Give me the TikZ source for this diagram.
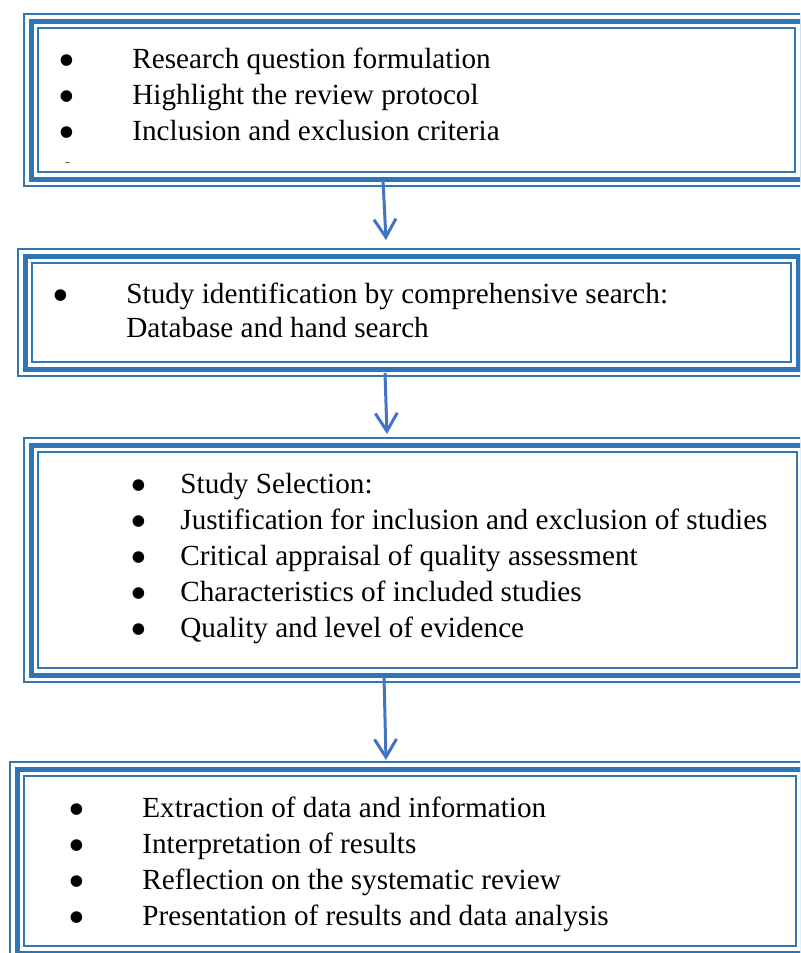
\documentclass[tikz,border=0pt]{standalone}
\usepackage{fontspec}
\setmainfont{Liberation Serif}
\newfontfamily\symfont{DejaVu Sans}
\usetikzlibrary{arrows.meta}
\usepackage{xcolor}
\definecolor{frameblue}{HTML}{2E75B6}
\definecolor{arrowblue}{HTML}{4472C4}
\newcommand{\bul}{\makebox[0pt]{\raisebox{1.6pt}{\symfont\fontsize{7.6pt}{9pt}\selectfont ●}}}

\begin{document}
\begin{tikzpicture}[x=0.5pt,y=-0.5pt]
\tikzstyle{stage} = [rectangle, draw=frameblue, line width=2.5pt, outer sep=0pt,
anchor=north west, preaction={draw=frameblue, line width=1.1pt, double=white, double distance=5.9pt}]
\tikzstyle{item} = [anchor=base west, inner sep=0pt, font=\fontsize{14.6pt}{18pt}\selectfont]
\tikzstyle{line} = [draw=arrowblue, line width=1.5pt, -{Straight Barb[length=9pt,width=11pt]}];

\useasboundingbox (0,0) rectangle (800,953);
\clip (0,0) rectangle (800,953);
\fill[white] (0,0) rectangle (800,953);

% stage 1
\node [stage, minimum width=385.5pt, minimum height=79pt] (plan) at (31,21) {};
\node [item] (plan1) at (66,68) {\bul\hspace{33pt}Research question formulation};
\node [item] (plan2) at (66,104) {\bul\hspace{33pt}Highlight the review protocol};
\node [item] (plan3) at (66,140) {\bul\hspace{33pt}Inclusion and exclusion criteria};
\begin{scope}
\clip (38,28) rectangle (795,162.5);
\node [item] (plan4) at (66,176) {\bul};
\end{scope}
% stage 2
\node [stage, minimum width=386.5pt, minimum height=56.5pt] (search) at (25,256) {};
\node [item] (search1) at (60,303) {\bul\hspace{33pt}Study identification by comprehensive search:};
\node [item] (search2) at (126,337) {Database and hand search};
% stage 3
\node [stage, minimum width=386.5pt, minimum height=115pt] (select) at (31,445) {};
\node [item] (select1) at (138,493) {\bul\hspace{21pt}Study Selection:};
\node [item] (select2) at (138,529) {\bul\hspace{21pt}Justification for inclusion and exclusion of studies};
\node [item] (select3) at (138,565) {\bul\hspace{21pt}Critical appraisal of quality assessment};
\node [item] (select4) at (138,601) {\bul\hspace{21pt}Characteristics of included studies};
\node [item] (select5) at (138,637) {\bul\hspace{21pt}Quality and level of evidence};
% stage 4
\node [stage, minimum width=393pt, minimum height=92pt] (report) at (17,769) {};
\node [item] (report1) at (76,817) {\bul\hspace{33pt}Extraction of data and information};
\node [item] (report2) at (76,853) {\bul\hspace{33pt}Interpretation of results};
\node [item] (report3) at (76,889) {\bul\hspace{33pt}Reflection on the systematic review};
\node [item] (report4) at (76,925) {\bul\hspace{33pt}Presentation of results and data analysis};

\path [line] ([xshift=-16.75pt,yshift=-0.5pt]plan.south) -- ([xshift=-12.75pt,yshift=8pt]search.north);
\path [line] ([xshift=-13.25pt,yshift=-2pt]search.south) -- ([xshift=-15.25pt,yshift=5.5pt]select.north);
\path [line] ([xshift=-16.75pt,yshift=-0.5pt]select.south) -- ([xshift=-12pt,yshift=4.5pt]report.north);

\end{tikzpicture}
\end{document}
